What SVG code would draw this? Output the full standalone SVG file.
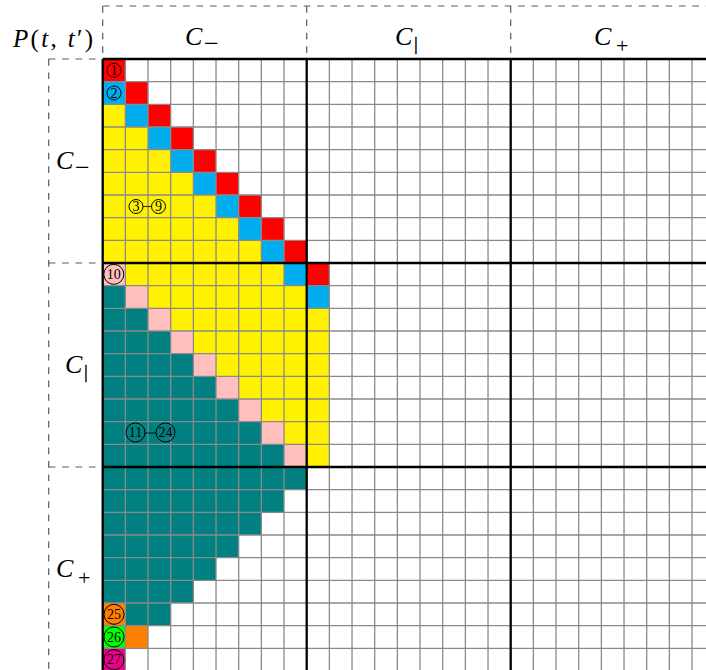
<svg xmlns="http://www.w3.org/2000/svg" width="706" height="670" viewBox="0 0 706 670">
<style>
.red{fill:#FF0000}.cy{fill:#00AEEF}.ye{fill:#FFF100}.pk{fill:#FFBFBF}.tl{fill:#008080}.or{fill:#FF8000}.gr{fill:#00FF00}.mg{fill:#EC008C}
.grid{stroke:#8A8A8A;stroke-width:1.3;fill:none}
.thick{stroke:#000;stroke-width:2.3;fill:none}
.dash{stroke:#5A5A5A;stroke-width:1.2;stroke-dasharray:6.7 6.7;fill:none}
.lbl{font-family:"Liberation Serif","DejaVu Serif",serif;fill:#000}
.it{font-style:italic}
.bar{stroke:#000;stroke-width:0.4}
.cn{stroke:#000;stroke-width:1;fill:none}
.num{font-family:"Liberation Serif","DejaVu Serif",serif;font-size:14px;text-anchor:middle;fill:#000}
</style>
<rect width="706" height="670" fill="#fff"/>
<g id="cells">
<g id="red">
<rect class="red" x="102.7" y="59" width="22.67" height="22.67"/>
<rect class="red" x="125.37" y="81.67" width="22.67" height="22.67"/>
<rect class="red" x="148.03" y="104.33" width="22.67" height="22.67"/>
<rect class="red" x="170.7" y="127" width="22.67" height="22.67"/>
<rect class="red" x="193.37" y="149.67" width="22.67" height="22.67"/>
<rect class="red" x="216.03" y="172.33" width="22.67" height="22.67"/>
<rect class="red" x="238.7" y="195" width="22.67" height="22.67"/>
<rect class="red" x="261.37" y="217.67" width="22.67" height="22.67"/>
<rect class="red" x="284.03" y="240.33" width="22.67" height="22.67"/>
<rect class="red" x="306.7" y="263" width="22.67" height="22.67"/>
</g>
<g id="cyan">
<rect class="cy" x="102.7" y="81.67" width="22.67" height="22.67"/>
<rect class="cy" x="125.37" y="104.33" width="22.67" height="22.67"/>
<rect class="cy" x="148.03" y="127" width="22.67" height="22.67"/>
<rect class="cy" x="170.7" y="149.67" width="22.67" height="22.67"/>
<rect class="cy" x="193.37" y="172.33" width="22.67" height="22.67"/>
<rect class="cy" x="216.03" y="195" width="22.67" height="22.67"/>
<rect class="cy" x="238.7" y="217.67" width="22.67" height="22.67"/>
<rect class="cy" x="261.37" y="240.33" width="22.67" height="22.67"/>
<rect class="cy" x="284.03" y="263" width="22.67" height="22.67"/>
<rect class="cy" x="306.7" y="285.67" width="22.67" height="22.67"/>
</g>
<g id="yellow">
<rect class="ye" x="102.7" y="104.33" width="22.67" height="22.67"/>
<rect class="ye" x="102.7" y="127" width="45.33" height="22.67"/>
<rect class="ye" x="102.7" y="149.67" width="68" height="22.67"/>
<rect class="ye" x="102.7" y="172.33" width="90.67" height="22.67"/>
<rect class="ye" x="102.7" y="195" width="113.33" height="22.67"/>
<rect class="ye" x="102.7" y="217.67" width="136" height="22.67"/>
<rect class="ye" x="102.7" y="240.33" width="158.67" height="22.67"/>
<rect class="ye" x="125.37" y="263" width="158.67" height="22.67"/>
<rect class="ye" x="148.03" y="285.67" width="158.67" height="22.67"/>
<rect class="ye" x="170.7" y="308.33" width="158.67" height="22.67"/>
<rect class="ye" x="193.37" y="331" width="136" height="22.67"/>
<rect class="ye" x="216.03" y="353.67" width="113.33" height="22.67"/>
<rect class="ye" x="238.7" y="376.33" width="90.67" height="22.67"/>
<rect class="ye" x="261.37" y="399" width="68" height="22.67"/>
<rect class="ye" x="284.03" y="421.67" width="45.33" height="22.67"/>
<rect class="ye" x="306.7" y="444.33" width="22.67" height="22.67"/>
</g>
<g id="pink">
<rect class="pk" x="102.7" y="263" width="22.67" height="22.67"/>
<rect class="pk" x="125.37" y="285.67" width="22.67" height="22.67"/>
<rect class="pk" x="148.03" y="308.33" width="22.67" height="22.67"/>
<rect class="pk" x="170.7" y="331" width="22.67" height="22.67"/>
<rect class="pk" x="193.37" y="353.67" width="22.67" height="22.67"/>
<rect class="pk" x="216.03" y="376.33" width="22.67" height="22.67"/>
<rect class="pk" x="238.7" y="399" width="22.67" height="22.67"/>
<rect class="pk" x="261.37" y="421.67" width="22.67" height="22.67"/>
<rect class="pk" x="284.03" y="444.33" width="22.67" height="22.67"/>
</g>
<g id="teal">
<rect class="tl" x="102.7" y="285.67" width="22.67" height="22.67"/>
<rect class="tl" x="102.7" y="308.33" width="45.33" height="22.67"/>
<rect class="tl" x="102.7" y="331" width="68" height="22.67"/>
<rect class="tl" x="102.7" y="353.67" width="90.67" height="22.67"/>
<rect class="tl" x="102.7" y="376.33" width="113.33" height="22.67"/>
<rect class="tl" x="102.7" y="399" width="136" height="22.67"/>
<rect class="tl" x="102.7" y="421.67" width="158.67" height="22.67"/>
<rect class="tl" x="102.7" y="444.33" width="181.33" height="22.67"/>
<rect class="tl" x="102.7" y="467" width="204" height="22.67"/>
<rect class="tl" x="102.7" y="489.67" width="181.33" height="22.67"/>
<rect class="tl" x="102.7" y="512.33" width="158.67" height="22.67"/>
<rect class="tl" x="102.7" y="535" width="136" height="22.67"/>
<rect class="tl" x="102.7" y="557.67" width="113.33" height="22.67"/>
<rect class="tl" x="102.7" y="580.33" width="90.67" height="22.67"/>
<rect class="tl" x="125.37" y="603" width="45.33" height="22.67"/>
</g>
<g id="others">
<rect class="or" x="102.7" y="603" width="22.67" height="22.67"/>
<rect class="or" x="125.37" y="625.67" width="22.67" height="22.67"/>
<rect class="gr" x="102.7" y="625.67" width="22.67" height="22.67"/>
<rect class="mg" x="102.7" y="648.33" width="22.67" height="22.67"/>
</g>
</g>
<g id="grid">
<path class="grid" d="M125.37 59V670M148.03 59V670M170.7 59V670M193.37 59V670M216.03 59V670M238.7 59V670M261.37 59V670M284.03 59V670M329.37 59V670M352.03 59V670M374.7 59V670M397.37 59V670M420.03 59V670M442.7 59V670M465.37 59V670M488.03 59V670M533.37 59V670M556.03 59V670M578.7 59V670M601.37 59V670M624.03 59V670M646.7 59V670M669.37 59V670M692.03 59V670"/>
<path class="grid" d="M102.7 81.67H706M102.7 104.33H706M102.7 127H706M102.7 149.67H706M102.7 172.33H706M102.7 195H706M102.7 217.67H706M102.7 240.33H706M102.7 285.67H706M102.7 308.33H706M102.7 331H706M102.7 353.67H706M102.7 376.33H706M102.7 399H706M102.7 421.67H706M102.7 444.33H706M102.7 489.67H706M102.7 512.33H706M102.7 535H706M102.7 557.67H706M102.7 580.33H706M102.7 603H706M102.7 625.67H706M102.7 648.33H706"/>
<path class="thick" d="M102.7 59V670M306.7 59V670M510.7 59V670M102.7 59H706M102.7 263H706M102.7 467H706"/>
</g>
<g id="frames">
<path class="dash" d="M102.7 6H706M102.7 6V59M306.7 6V59M510.7 6V59"/>
<path class="dash" d="M48.7 59V670M48.7 59H102.7M48.7 263H102.7M48.7 467H102.7"/>
</g>
<g id="labels">
<text class="lbl" x="13" y="47" font-size="25" textLength="80" lengthAdjust="spacing"><tspan class="it">P</tspan>(<tspan class="it">t</tspan>, <tspan class="it">t</tspan>′)</text>
<g id="top-cminus"><text class="lbl it" x="185" y="45" font-size="26">C</text><text class="lbl" x="204" y="51.5" font-size="26">−</text></g>
<g id="top-cbar"><text class="lbl it" x="395" y="45" font-size="26">C</text><text class="lbl bar" x="414" y="50" font-size="19">|</text></g>
<g id="top-cplus"><text class="lbl it" x="594" y="45" font-size="26">C</text><text class="lbl" x="616" y="52.5" font-size="22">+</text></g>
<g id="left-cminus"><text class="lbl it" x="56" y="169" font-size="26">C</text><text class="lbl" x="75" y="175.5" font-size="26">−</text></g>
<g id="left-cbar"><text class="lbl it" x="65" y="373" font-size="26">C</text><text class="lbl bar" x="84" y="378" font-size="19">|</text></g>
<g id="left-cplus"><text class="lbl it" x="56" y="577" font-size="26">C</text><text class="lbl" x="78" y="584.5" font-size="22">+</text></g>
</g>
<g id="circled">
<g id="n1"><circle class="cn" cx="114" cy="70.3" r="7"/><text class="num" x="114" y="75">1</text></g>
<g id="n2"><circle class="cn" cx="114" cy="93" r="7"/><text class="num" x="114" y="97.7">2</text></g>
<g id="n3-9"><circle class="cn" cx="136" cy="206.5" r="7"/><text class="num" x="136" y="211.2">3</text><line x1="143" y1="206.5" x2="151.5" y2="206.5" stroke="#000" stroke-width="0.8"/><circle class="cn" cx="158.5" cy="206.5" r="7"/><text class="num" x="158.5" y="211.2">9</text></g>
<g id="n10"><circle class="cn" cx="113.8" cy="274.3" r="10"/><text class="num" x="113.8" y="279">10</text></g>
<g id="n11-24"><circle class="cn" cx="135.5" cy="432.5" r="9.5"/><text class="num" x="135.5" y="437.2">11</text><line x1="145" y1="433" x2="156" y2="433" stroke="#000" stroke-width="0.8"/><circle class="cn" cx="165.5" cy="432.5" r="9.5"/><text class="num" x="165.5" y="437.2">24</text></g>
<g id="n25"><circle class="cn" cx="114" cy="614.3" r="10"/><text class="num" x="114" y="619">25</text></g>
<g id="n26"><circle class="cn" cx="114" cy="637" r="10"/><text class="num" x="114" y="641.7">26</text></g>
<g id="n27"><circle class="cn" cx="114" cy="659.7" r="10"/><text class="num" x="114" y="664.4">27</text></g>
</g>
</svg>
